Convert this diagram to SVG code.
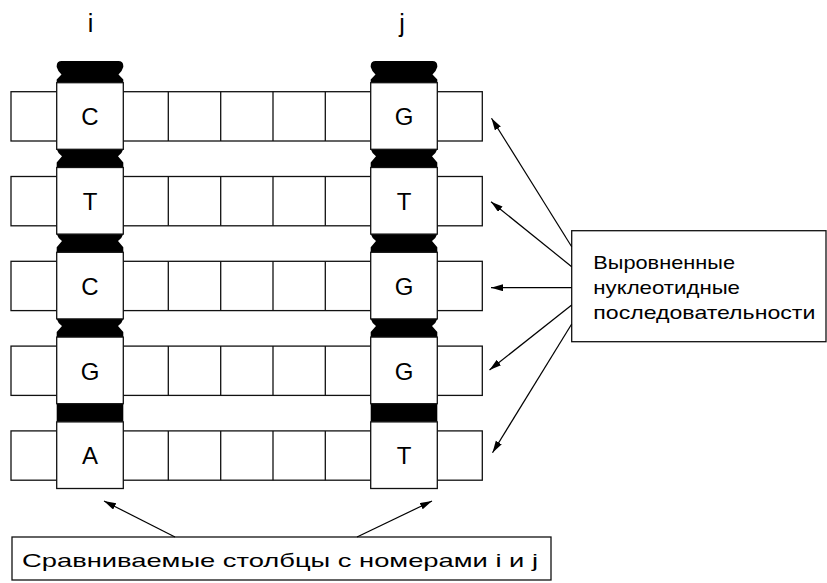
<svg xmlns="http://www.w3.org/2000/svg" width="827" height="583" viewBox="0 0 827 583">
<defs>
<style>
.cell{fill:#fff;stroke:#111;stroke-width:1.3}
.sep{stroke:#111;stroke-width:1.3}
.cap{fill:#000}
.lbl{font-family:"Liberation Sans",Arial,sans-serif;fill:#000}
.big{font-size:24px;text-anchor:middle}
.txt{font-size:19px}
.arr{stroke:#000;stroke-width:1.2;fill:none;marker-end:url(#ah)}
.box{fill:#fff;stroke:#111;stroke-width:1.3}
</style>
<marker id="ah" markerUnits="userSpaceOnUse" markerWidth="13" markerHeight="8" refX="12" refY="3.5" orient="auto">
<path d="M0,0 L12,3.5 L0,7 Z" fill="#000"/>
</marker>
</defs>
<rect width="827" height="583" fill="#fff"/>

<g id="col-labels" class="lbl big">
<text x="90.5" y="32" font-size="25">i</text>
<text x="402" y="32" font-size="25">j</text>
</g>

<g id="caps">
<path class="cap" d="M56.7,82.7 L56.7,79.5 L61.5,74.5 Q57.7,71 56.7,67 L56.7,66 Q56.7,61 61.7,61 L118.3,61 Q123.3,61 123.3,66 L123.3,67 Q122.3,71 118.5,74.5 L123.3,79.5 L123.3,82.7 Z"/>
<path class="cap" d="M370.7,82.7 L370.7,79.5 L375.5,74.5 Q371.7,71 370.7,67 L370.7,66 Q370.7,61 375.7,61 L432.3,61 Q437.3,61 437.3,66 L437.3,67 Q436.3,71 432.5,74.5 L437.3,79.5 L437.3,82.7 Z"/>
<path class="cap" d="M56.7,149.3 Q57.7,153 62,156.3 L56.7,162.5 L56.7,167.5 L123.3,167.5 L123.3,162.5 L118,156.3 Q122.3,153 123.3,149.3 Z"/>
<path class="cap" d="M370.7,149.3 Q371.7,153 376,156.3 L370.7,162.5 L370.7,167.5 L437.3,167.5 L437.3,162.5 L432,156.3 Q436.3,153 437.3,149.3 Z"/>
<path class="cap" d="M56.7,234.1 Q57.7,237.8 62,241.1 L56.7,247.3 L56.7,252.3 L123.3,252.3 L123.3,247.3 L118,241.1 Q122.3,237.8 123.3,234.1 Z"/>
<path class="cap" d="M370.7,234.1 Q371.7,237.8 376,241.1 L370.7,247.3 L370.7,252.3 L437.3,252.3 L437.3,247.3 L432,241.1 Q436.3,237.8 437.3,234.1 Z"/>
<path class="cap" d="M56.7,318.9 Q57.7,322.6 62,325.9 L56.7,332.1 L56.7,337.1 L123.3,337.1 L123.3,332.1 L118,325.9 Q122.3,322.6 123.3,318.9 Z"/>
<path class="cap" d="M370.7,318.9 Q371.7,322.6 376,325.9 L370.7,332.1 L370.7,337.1 L437.3,337.1 L437.3,332.1 L432,325.9 Q436.3,322.6 437.3,318.9 Z"/>
<rect class="cap" x="56.7" y="403.7" width="66.6" height="18.2"/>
<rect class="cap" x="370.7" y="403.7" width="66.6" height="18.2"/>
</g>

<g id="row1">
<rect class="cell" x="11" y="91.7" width="471.3" height="49.3"/>
<path class="sep" d="M168.3,91.7V141 M220.7,91.7V141 M273,91.7V141 M325.3,91.7V141"/>
<rect class="cell" x="56.7" y="82.7" width="66.6" height="66.6"/>
<rect class="cell" x="370.7" y="82.7" width="66.6" height="66.6"/>
<text class="lbl big" x="90" y="125.2">C</text>
<text class="lbl big" x="404" y="125.2">G</text>
</g>

<g id="row2">
<rect class="cell" x="11" y="176.5" width="471.3" height="49.3"/>
<path class="sep" d="M168.3,176.5V225.8 M220.7,176.5V225.8 M273,176.5V225.8 M325.3,176.5V225.8"/>
<rect class="cell" x="56.7" y="167.5" width="66.6" height="66.6"/>
<rect class="cell" x="370.7" y="167.5" width="66.6" height="66.6"/>
<text class="lbl big" x="90" y="210">T</text>
<text class="lbl big" x="404" y="210">T</text>
</g>

<g id="row3">
<rect class="cell" x="11" y="261.3" width="471.3" height="49.3"/>
<path class="sep" d="M168.3,261.3V310.6 M220.7,261.3V310.6 M273,261.3V310.6 M325.3,261.3V310.6"/>
<rect class="cell" x="56.7" y="252.3" width="66.6" height="66.6"/>
<rect class="cell" x="370.7" y="252.3" width="66.6" height="66.6"/>
<text class="lbl big" x="90" y="294.8">C</text>
<text class="lbl big" x="404" y="294.8">G</text>
</g>

<g id="row4">
<rect class="cell" x="11" y="346.1" width="471.3" height="49.3"/>
<path class="sep" d="M168.3,346.1V395.4 M220.7,346.1V395.4 M273,346.1V395.4 M325.3,346.1V395.4"/>
<rect class="cell" x="56.7" y="337.1" width="66.6" height="66.6"/>
<rect class="cell" x="370.7" y="337.1" width="66.6" height="66.6"/>
<text class="lbl big" x="90" y="379.6">G</text>
<text class="lbl big" x="404" y="379.6">G</text>
</g>

<g id="row5">
<rect class="cell" x="11" y="430.9" width="471.3" height="49.3"/>
<path class="sep" d="M168.3,430.9V480.2 M220.7,430.9V480.2 M273,430.9V480.2 M325.3,430.9V480.2"/>
<rect class="cell" x="56.7" y="421.9" width="66.6" height="66.6"/>
<rect class="cell" x="370.7" y="421.9" width="66.6" height="66.6"/>
<text class="lbl big" x="90" y="464.4">A</text>
<text class="lbl big" x="404" y="464.4">T</text>
</g>

<g id="aligned-label">
<rect class="box" x="571.7" y="230.7" width="254.3" height="111"/>
<text class="lbl txt" x="593.3" y="269" textLength="141.7" lengthAdjust="spacingAndGlyphs">Выровненные</text>
<text class="lbl txt" x="593.3" y="294" textLength="146.7" lengthAdjust="spacingAndGlyphs">нуклеотидные</text>
<text class="lbl txt" x="593.3" y="319" textLength="222" lengthAdjust="spacingAndGlyphs">последовательности</text>
</g>

<g id="columns-label">
<rect class="box" x="12" y="537" width="539" height="43"/>
<text class="lbl txt" x="22" y="567" font-size="20" textLength="516" lengthAdjust="spacingAndGlyphs">Сравниваемые столбцы с номерами i и j</text>
</g>

<g id="connectors">
<line class="arr" x1="571.7" y1="246.7" x2="491.5" y2="118.3"/>
<line class="arr" x1="571.7" y1="266.7" x2="491" y2="201.7"/>
<line class="arr" x1="571.7" y1="287.7" x2="491" y2="287.7"/>
<line class="arr" x1="571.7" y1="305" x2="489.5" y2="370"/>
<line class="arr" x1="571.7" y1="324" x2="492.5" y2="452.7"/>
<line class="arr" x1="175" y1="537" x2="104" y2="501"/>
<line class="arr" x1="357" y1="537" x2="432" y2="501"/>
</g>
</svg>
